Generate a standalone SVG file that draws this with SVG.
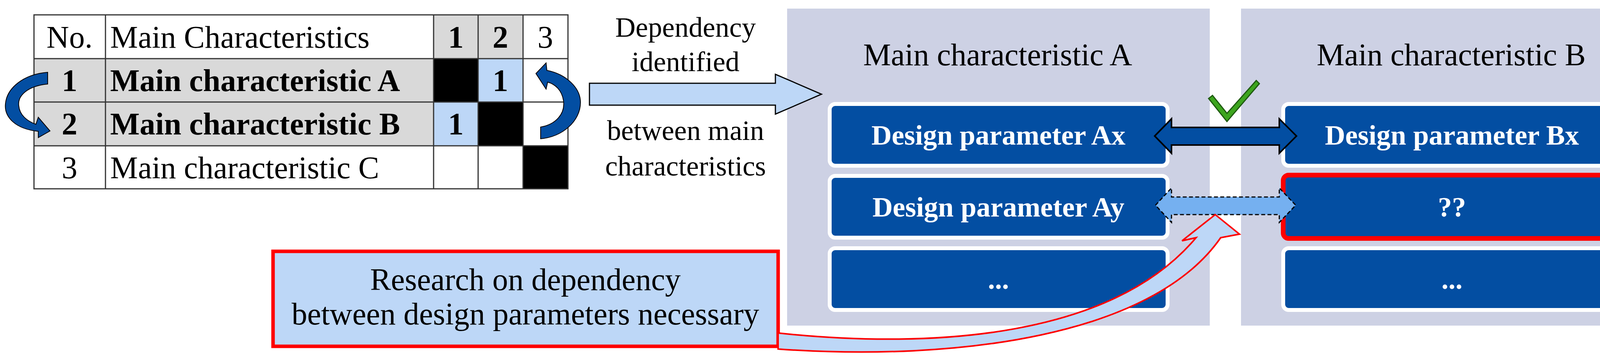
<svg xmlns="http://www.w3.org/2000/svg" width="4299" height="921" viewBox="0 0 4299 921">
<style>
text{font-family:"Liberation Serif",serif;fill:#000}
.t{font-size:80px}
.d{font-size:72px}
.b{font-weight:bold}
.w{fill:#fff;font-weight:bold;font-size:72px}
.grid{stroke:#333;stroke-width:3;fill:none}
.panel{fill:#CDD1E4}
.dp{fill:#034EA2;stroke:#fff;stroke-width:10}
</style>
<rect width="4299" height="921" fill="#fff"/>
<g id="table">
<rect x="87" y="150" width="1023" height="223" fill="#D9D9D9"/>
<rect x="1110" y="38" width="229" height="112" fill="#D9D9D9"/>
<rect x="1110" y="150" width="114" height="111" fill="#000"/>
<rect x="1224" y="261" width="115" height="112" fill="#000"/>
<rect x="1339" y="373" width="115" height="110" fill="#000"/>
<rect x="1224" y="150" width="115" height="111" fill="#BDD7F7"/>
<rect x="1110" y="261" width="114" height="112" fill="#BDD7F7"/>
<rect class="grid" x="87" y="38" width="1367" height="445"/>
<path class="grid" d="M87 150H1454M87 261H1454M87 373H1454M270 38V483M1110 38V483M1224 38V483M1339 38V483"/>
<text class="t" x="178" y="122" text-anchor="middle">No.</text>
<text class="t" x="282" y="122">Main Characteristics</text>
<text class="t b" x="1167" y="122" text-anchor="middle">1</text>
<text class="t b" x="1281" y="122" text-anchor="middle">2</text>
<text class="t" x="1396" y="122" text-anchor="middle">3</text>
<text class="t b" x="178" y="233" text-anchor="middle">1</text>
<text class="t b" x="282" y="233">Main characteristic A</text>
<text class="t b" x="1281" y="233" text-anchor="middle">1</text>
<text class="t b" x="178" y="344" text-anchor="middle">2</text>
<text class="t b" x="282" y="344">Main characteristic B</text>
<text class="t b" x="1167" y="344" text-anchor="middle">1</text>
<text class="t" x="178" y="456" text-anchor="middle">3</text>
<text class="t" x="282" y="456">Main characteristic C</text>
</g>
<g id="cycle-arrows" fill="#034EA2" stroke="#000" stroke-width="2">
<path d="M122 185 L122 215 C70 220 45 245 48 270 C50 295 70 310 92 318 L98 300 L128 335 L98 352 L98 336 C40 330 10 300 14 265 C18 225 60 190 122 185Z"/>
<path d="M1384 355 L1384 325 C1425 318 1445 290 1443 262 C1440 230 1420 215 1402 210 L1398 228 L1372 188 L1398 161 L1400 180 C1450 190 1486 225 1486 262 C1486 310 1440 350 1384 355Z"/>
</g>
<g id="dependency-label">
<text class="d" x="1755" y="94" text-anchor="middle">Dependency</text>
<text class="d" x="1755" y="182" text-anchor="middle">identified</text>
<text class="d" x="1755" y="358" text-anchor="middle">between main</text>
<text class="d" x="1755" y="449" text-anchor="middle">characteristics</text>
</g>
<g id="panelA">
<rect class="panel" x="2015" y="22" width="1082" height="811"/>
<text class="t" x="2554" y="167" text-anchor="middle">Main characteristic A</text>
</g>
<g id="panelB">
<rect class="panel" x="3177" y="22" width="1081" height="811"/>
<text class="t" x="3715" y="167" text-anchor="middle">Main characteristic B</text>
</g>
<g id="Ax"><rect class="dp" x="2124" y="266" width="865" height="158" rx="14"/><text class="w" x="2556" y="370" text-anchor="middle">Design parameter Ax</text></g>
<g id="Ay"><rect class="dp" x="2124" y="450" width="865" height="158" rx="14"/><text class="w" x="2556" y="554" text-anchor="middle">Design parameter Ay</text></g>
<g id="A3"><rect class="dp" x="2124" y="635" width="865" height="158" rx="14"/><text class="w" x="2556" y="739" text-anchor="middle">...</text></g>
<g id="Bx"><rect class="dp" x="3285" y="266" width="865" height="158" rx="14"/><text class="w" x="3717" y="370" text-anchor="middle">Design parameter Bx</text></g>
<g id="B2"><rect x="3285" y="448" width="865" height="162" rx="14" fill="#034EA2" stroke="#FF0000" stroke-width="12"/><text class="w" x="3717" y="554" text-anchor="middle">??</text></g>
<g id="B3"><rect class="dp" x="3285" y="635" width="865" height="158" rx="14"/><text class="w" x="3717" y="739" text-anchor="middle">...</text></g>
<g id="research"><rect x="699" y="643" width="1293" height="243" fill="#BDD7F7" stroke="#FF0000" stroke-width="9"/>
<text class="t" x="1345" y="742" text-anchor="middle">Research on dependency</text>
<text class="t" x="1345" y="830" text-anchor="middle">between design parameters necessary</text></g>
<g id="connectors">
<path d="M1509 213 H1985 V190 L2103 241 L1985 292 V269 H1509Z" fill="#BDD7F7" stroke="#000" stroke-width="3"/>
<path d="M2956 348 L2999 304 V326 H3275 V304 L3319 348 L3275 392 V371 H2999 V392Z" fill="#034EA2" stroke="#000" stroke-width="4"/>
<path d="M2958 525 L2999 481 V504 H3275 V481 L3317 525 L3275 569 V549 H2999 V569Z" fill="#75B0F0" stroke="#000" stroke-width="3" stroke-dasharray="10 6"/>
<path d="M3094 252 L3141 311 L3224 214 L3216 206 L3141 290 L3104 244Z" fill="#3DA51E" stroke="#1E5A10" stroke-width="3"/>
<path d="M1992 852 C2400 895 2850 860 3062 608 L3026 616 L3111 549 L3173 599 L3125 608 C2950 860 2450 925 1992 893Z" fill="#BDD7F7" stroke="#FF0000" stroke-width="4"/>
</g>
</svg>
